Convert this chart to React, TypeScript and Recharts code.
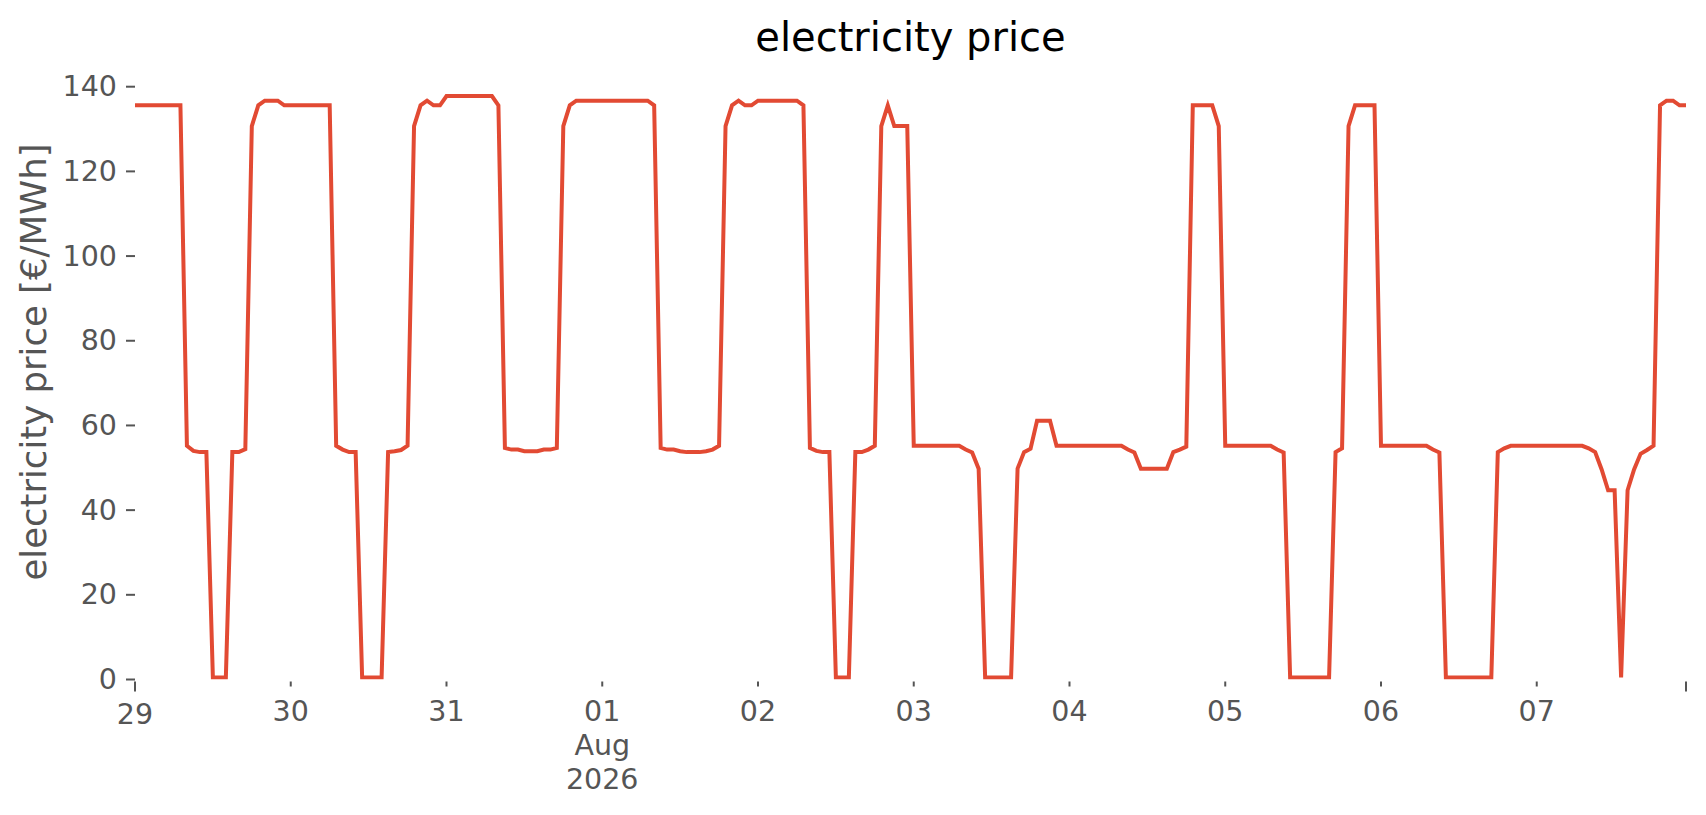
import React from 'react';
import { LineChart, Line, XAxis, YAxis } from 'recharts';

// hourly day-ahead prices, 29 Jul 2026 00:00 .. 07 Aug 2026 23:00 (EUR/MWh)
const jul29 = [135.6, 135.6, 135.6, 135.6, 135.6, 135.6, 135.6, 135.6, 55.2, 54.0, 53.7, 53.7, 0.5, 0.5, 0.5, 53.7, 53.7, 54.4, 130.7, 135.6, 136.7, 136.7, 136.7, 135.6];
const jul30 = [135.6, 135.6, 135.6, 135.6, 135.6, 135.6, 135.6, 55.2, 54.3, 53.7, 53.7, 0.5, 0.5, 0.5, 0.5, 53.7, 53.9, 54.2, 55.2, 130.7, 135.6, 136.7, 135.6, 135.6];
const jul31 = [137.8, 137.8, 137.8, 137.8, 137.8, 137.8, 137.8, 137.8, 135.6, 54.7, 54.3, 54.3, 53.9, 53.9, 53.9, 54.3, 54.3, 54.7, 130.7, 135.6, 136.7, 136.7, 136.7, 136.7];
const aug01 = [136.7, 136.7, 136.7, 136.7, 136.7, 136.7, 136.7, 136.7, 135.6, 54.7, 54.3, 54.3, 53.9, 53.7, 53.7, 53.7, 53.9, 54.3, 55.2, 130.7, 135.6, 136.7, 135.6, 135.6];
const aug02 = [136.7, 136.7, 136.7, 136.7, 136.7, 136.7, 136.7, 135.6, 54.7, 54.0, 53.7, 53.7, 0.5, 0.5, 0.5, 53.7, 53.7, 54.3, 55.2, 130.7, 135.6, 130.7, 130.7, 130.7];
const aug03 = [55.2, 55.2, 55.2, 55.2, 55.2, 55.2, 55.2, 55.2, 54.3, 53.6, 49.8, 0.5, 0.5, 0.5, 0.5, 0.5, 49.8, 53.7, 54.5, 61.1, 61.1, 61.1, 55.2, 55.2];
const aug04 = [55.2, 55.2, 55.2, 55.2, 55.2, 55.2, 55.2, 55.2, 55.2, 54.3, 53.6, 49.8, 49.8, 49.8, 49.8, 49.8, 53.7, 54.3, 55.0, 135.6, 135.6, 135.6, 135.6, 130.7];
const aug05 = [55.2, 55.2, 55.2, 55.2, 55.2, 55.2, 55.2, 55.2, 54.3, 53.6, 0.5, 0.5, 0.5, 0.5, 0.5, 0.5, 0.5, 53.7, 54.6, 130.7, 135.6, 135.6, 135.6, 135.6];
const aug06 = [55.2, 55.2, 55.2, 55.2, 55.2, 55.2, 55.2, 55.2, 54.3, 53.6, 0.5, 0.5, 0.5, 0.5, 0.5, 0.5, 0.5, 0.5, 53.7, 54.6, 55.2, 55.2, 55.2, 55.2];
const aug07 = [55.2, 55.2, 55.2, 55.2, 55.2, 55.2, 55.2, 55.2, 54.6, 53.7, 49.6, 44.7, 44.7, 0.5, 44.7, 49.6, 53.3, 54.2, 55.2, 135.6, 136.7, 136.7, 135.6, 135.6];

const days = [jul29, jul30, jul31, aug01, aug02, aug03, aug04, aug05, aug06, aug07];

// x ticks (hour index from start) and their labels
const xTickValues = [0, 24, 48, 72, 96, 120, 144, 168, 192, 216, 239];
const xTickLabels = [['29'], ['30'], ['31'], ['01', 'Aug', '2026'], ['02'], ['03'], ['04'], ['05'], ['06'], ['07'], []];
const xMajorTicks = [0, 239];
const yTickValues = [0, 20, 40, 60, 80, 100, 120, 140];

const data = days.flat().map((price, h) => ({ h, price }));

const W = 1706;
const H = 815;
const MARGIN_TOP = 66.8;
const PLOT_LEFT = 135;
const PLOT_RIGHT = 1686;
const PLOT_BOTTOM = 679.5;
const FONT = "'DejaVu Sans', sans-serif";
const TICK_COLOR = '#555555';
const TICK_FS = 28.5;
const YLABEL_X = 46;
const YLABEL_Y = 362;

const XTick = (props: any) => {
  const { x, payload } = props;
  const v = payload.value;
  const idx = xTickValues.indexOf(v);
  const lines = idx >= 0 ? xTickLabels[idx] : [];
  const major = xMajorTicks.includes(v);
  const baseY = major ? 724 : 721;
  return (
    <g>
      <line x1={x} x2={x} y1={PLOT_BOTTOM + 2} y2={PLOT_BOTTOM + (major ? 12 : 7)} stroke={TICK_COLOR} strokeWidth={2} />
      {lines.length > 0 && (
        <text x={x} y={baseY} textAnchor="middle" fill={TICK_COLOR} fontSize={TICK_FS} fontFamily={FONT}>
          {lines.map((l: string, i: number) => (
            <tspan key={i} x={x} dy={i === 0 ? 0 : 34}>{l}</tspan>
          ))}
        </text>
      )}
    </g>
  );
};

const YTick = (props: any) => {
  const { y, payload } = props;
  return (
    <g>
      <line x1={PLOT_LEFT - 9} x2={PLOT_LEFT} y1={y} y2={y} stroke={TICK_COLOR} strokeWidth={2} />
      <text x={PLOT_LEFT - 18} y={y} textAnchor="end" dominantBaseline="central" fill={TICK_COLOR} fontSize={TICK_FS} fontFamily={FONT}>
        {payload.value}
      </text>
    </g>
  );
};

export default function App() {
  return (
    <div style={{ position: 'absolute', left: 0, top: 0, width: W, height: H, background: '#ffffff' }}>
      <LineChart
        width={W}
        height={H}
        data={data}
        margin={{ top: MARGIN_TOP, right: W - PLOT_RIGHT, bottom: 0, left: 0 }}
      >
        <XAxis
          dataKey="h"
          type="number"
          domain={[0, 239]}
          ticks={xTickValues}
          interval={0}
          height={H - PLOT_BOTTOM}
          axisLine={false}
          tickLine={false}
          tick={<XTick />}
          allowDataOverflow
        />
        <YAxis
          type="number"
          domain={[0, 144.7]}
          ticks={yTickValues}
          interval={0}
          width={PLOT_LEFT}
          axisLine={false}
          tickLine={false}
          tick={<YTick />}
          allowDataOverflow
        />
        <Line
          type="linear"
          dataKey="price"
          stroke="#E24A33"
          strokeWidth={4}
          dot={false}
          activeDot={false}
          isAnimationActive={false}
        />
      </LineChart>
      <svg width={W} height={H} style={{ position: 'absolute', left: 0, top: 0, pointerEvents: 'none' }}>
        <text x={(PLOT_LEFT + PLOT_RIGHT) / 2} y={51} textAnchor="middle" fill="#000000" fontSize={40} fontFamily={FONT}>
          electricity price
        </text>
        <text
          x={YLABEL_X}
          y={YLABEL_Y}
          transform={`rotate(-90 ${YLABEL_X} ${YLABEL_Y})`}
          textAnchor="middle"
          fill={TICK_COLOR}
          fontSize={35.5}
          fontFamily={FONT}
        >
          electricity price [€/MWh]
        </text>
      </svg>
    </div>
  );
}
